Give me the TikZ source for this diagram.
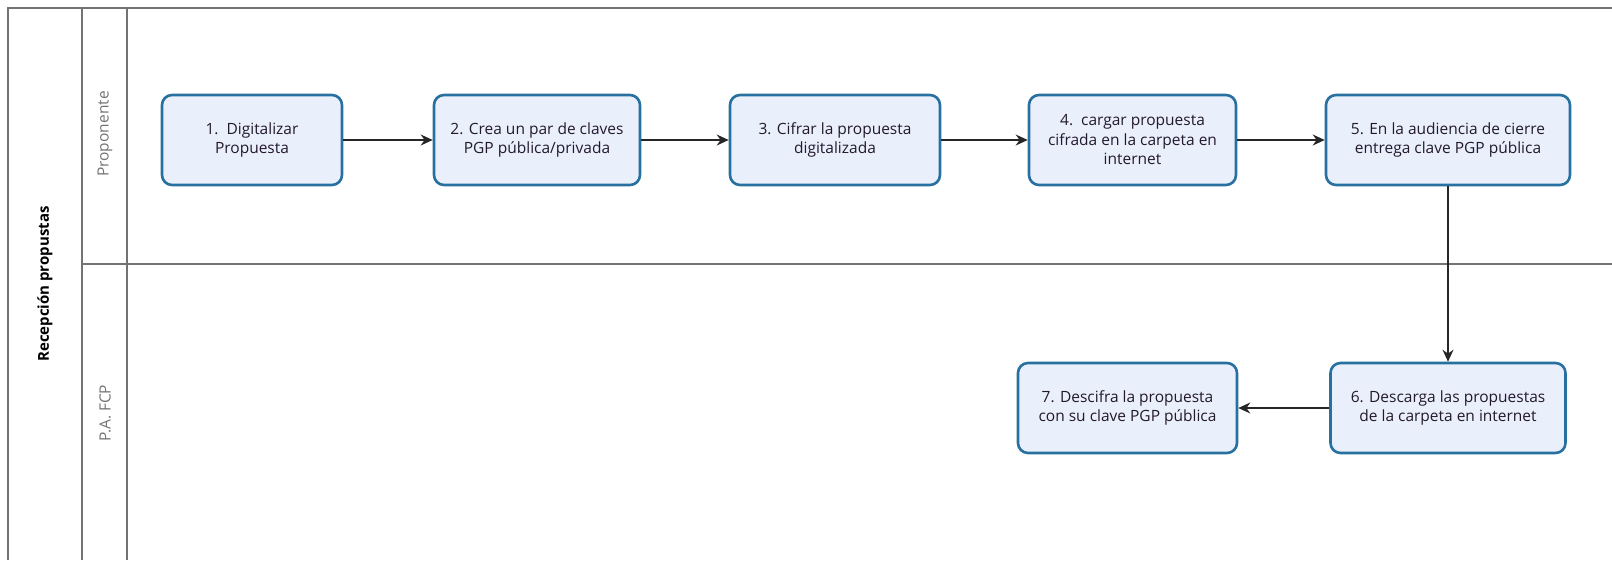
\documentclass[tikz,border=0pt]{standalone}
\usepackage{fontspec}
\setmainfont{Open Sans}
\usetikzlibrary{arrows.meta}
\definecolor{boxfill}{RGB}{234,239,252}
\definecolor{boxline}{RGB}{40,112,160}
\definecolor{laneline}{RGB}{115,115,115}
\definecolor{txt}{RGB}{35,25,45}
\tikzset{
  stepbox/.style={draw=boxline, fill=boxfill, line width=2.6pt, rounded corners=10pt,
    align=center, text=txt, font=\fontsize{15.5}{19.5}\selectfont, inner sep=0pt},
  flow/.style={draw=black!85, line width=1.6pt, -{Stealth[length=12pt,width=11pt]}},
  lane/.style={draw=laneline, line width=1.5pt},
  lanelabel/.style={text=laneline, font=\fontsize{15.5}{18}\selectfont, rotate=90},
}
\begin{document}
\begin{tikzpicture}[x=1pt,y=-1pt]
\useasboundingbox (0,0) rectangle (1612,560);
% frame
\draw[lane] (1612,8) -- (8,8) -- (8,560);
\draw[lane] (82,8) -- (82,560);
\draw[lane] (127,8) -- (127,560);
\draw[lane] (82,264) -- (1612,264);
% labels
\node[font=\bfseries\fontsize{15}{18}\selectfont, rotate=90] (pool) at (45,284) {Recepción propustas};
\node[lanelabel] (l1) at (105,134) {Proponente};
\node[lanelabel] (l2) at (105,413) {P.A. FCP};
% boxes
\node[stepbox, minimum width=180pt, minimum height=90pt] (b1) at (252,140) {1.\ \ Digitalizar\\Propuesta};
\node[stepbox, minimum width=206pt, minimum height=90pt] (b2) at (537,140) {2. Crea un par de claves\\PGP pública/privada};
\node[stepbox, minimum width=210pt, minimum height=90pt] (b3) at (835,140) {3. Cifrar la propuesta\\digitalizada};
\node[stepbox, minimum width=207pt, minimum height=90pt] (b4) at (1132.5,140) {4.\ \ cargar propuesta\\cifrada en la carpeta en\\internet};
\node[stepbox, minimum width=244pt, minimum height=90pt] (b5) at (1448,140) {5. En la audiencia de cierre\\entrega clave PGP pública};
\node[stepbox, minimum width=235pt, minimum height=90pt] (b6) at (1448,408) {6. Descarga las propuestas\\de la carpeta en internet};
\node[stepbox, minimum width=219pt, minimum height=90pt] (b7) at (1127.5,408) {7. Descifra la propuesta\\con su clave PGP pública};
% connectors
\draw[flow] (b1) -- (b2);
\draw[flow] (b2) -- (b3);
\draw[flow] (b3) -- (b4);
\draw[flow] (b4) -- (b5);
\draw[flow] (b5) -- (b6);
\draw[flow] (b6) -- (b7);
\end{tikzpicture}
\end{document}
